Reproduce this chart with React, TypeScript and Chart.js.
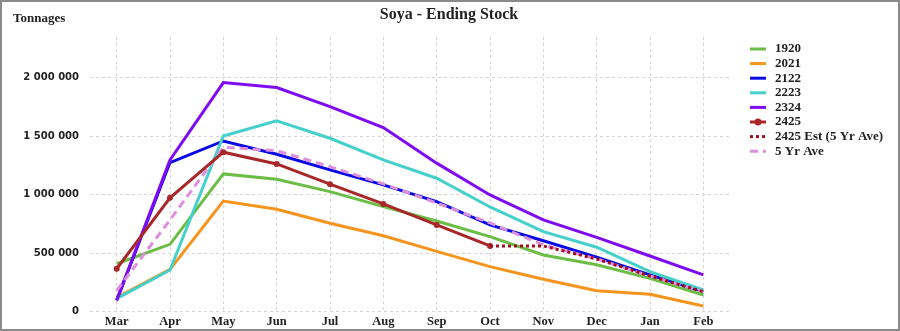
import React, { useEffect, useRef } from "react";
import { Chart, registerables } from "chart.js";

Chart.register(...registerables);

const months = ["Mar", "Apr", "May", "Jun", "Jul", "Aug", "Sep", "Oct", "Nov", "Dec", "Jan", "Feb"];

const s1920 = [409000, 575000, 1178000, 1132000, 1026000, 898000, 775000, 641000, 484000, 400000, 284000, 141000];
const s2021 = [120000, 361000, 946000, 875000, 755000, 649000, 515000, 384000, 276000, 178000, 147000, 47000];
const s2122 = [95000, 1275000, 1460000, 1346000, 1212000, 1084000, 941000, 741000, 606000, 465000, 313000, 170000];
const s2223 = [110000, 355000, 1503000, 1632000, 1483000, 1298000, 1141000, 895000, 684000, 550000, 341000, 184000];
const s2324 = [95000, 1298000, 1960000, 1917000, 1754000, 1575000, 1270000, 998000, 784000, 635000, 475000, 313000];
const s2425 = [366000, 973000, 1364000, 1263000, 1090000, 921000, 741000, 561000, null, null, null, null];
const s2425Est = [null, null, null, null, null, null, null, 561000, 561000, 450000, 304000, 170000];
const s5YrAve = [180000, 784000, 1406000, 1377000, 1240000, 1092000, 929000, 758000, 570000, 450000, 304000, 170000];

const yTicks = [0, 500000, 1000000, 1500000, 2000000];

const fmt = (v: number) => String(Math.round(v)).replace(/\B(?=(\d{3})+(?!\d))/g, " ");

const serif = "'Liberation Serif', serif";

const decorPlugin = {
  id: "decor",
  afterDraw(chart: any) {
    const ctx = chart.ctx;
    ctx.save();
    // title
    ctx.fillStyle = "#222";
    ctx.font = `bold 16px ${serif}`;
    ctx.textAlign = "center";
    ctx.textBaseline = "middle";
    ctx.fillText("Soya - Ending Stock", 449, 15);
    // axis title
    ctx.font = `bold 13px ${serif}`;
    ctx.textAlign = "left";
    ctx.fillText("Tonnages", 13, 19);
    // legend
    const ds = chart.data.datasets;
    ds.forEach((d: any, i: number) => {
      const y = 49 + i * 14.6;
      ctx.strokeStyle = d.borderColor;
      ctx.lineWidth = 3;
      ctx.setLineDash(d.borderDash || []);
      ctx.beginPath();
      ctx.moveTo(750, y);
      ctx.lineTo(766, y);
      ctx.stroke();
      ctx.setLineDash([]);
      if (d.pointRadius > 0) {
        ctx.fillStyle = d.borderColor;
        ctx.beginPath();
        ctx.arc(758, y, 3.5, 0, Math.PI * 2);
        ctx.fill();
      }
      ctx.fillStyle = "#222";
      ctx.font = `bold 13px ${serif}`;
      ctx.textAlign = "left";
      ctx.textBaseline = "middle";
      ctx.fillText(d.label, 775, y);
    });
    // border
    ctx.strokeStyle = "#8a8a8a";
    ctx.lineWidth = 2;
    ctx.strokeRect(1, 1, 898, 329);
    ctx.restore();
  },
};

export default function App() {
  const ref = useRef<HTMLCanvasElement>(null);
  useEffect(() => {
    if (!ref.current) return;
    const mk = (label: string, data: any[], color: string, extra: any = {}) => ({
      label,
      data,
      borderColor: color,
      backgroundColor: color,
      borderWidth: 3,
      pointRadius: 0,
      tension: 0,
      fill: false,
      spanGaps: false,
      ...extra,
    });
    const chart = new Chart(ref.current, {
      type: "line",
      data: {
        labels: months,
        datasets: [
          mk("1920", s1920, "#6cbd45", { order: 8 }),
          mk("2021", s2021, "#f7941d", { order: 7 }),
          mk("2122", s2122, "#0a0ae6", { order: 6 }),
          mk("2223", s2223, "#45d0cc", { order: 5 }),
          mk("2324", s2324, "#7f0bf2", { order: 4 }),
          mk("2425", s2425, "#a8282a", { order: 2, pointRadius: 3, pointBorderWidth: 0, pointHoverRadius: 3 }),
          mk("2425 Est (5 Yr Ave)", s2425Est, "#a00d1a", { order: 1, borderDash: [3, 3] }),
          mk("5 Yr Ave", s5YrAve, "#dc8fdc", { order: 3, borderDash: [8, 5] }),
        ],
      },
      options: {
        responsive: false,
        animation: false,
        devicePixelRatio: 1,
        layout: { padding: { left: 0, top: 37, right: 170, bottom: 0 } },
        plugins: { legend: { display: false }, title: { display: false }, tooltip: { enabled: false } },
        scales: {
          x: {
            offset: true,
            grid: { color: "#d6d6d6", drawTicks: false },
            border: { display: false, dash: [3, 3] },
            ticks: { color: "#222", padding: 3, font: { family: serif, weight: "bold", size: 12.5 }, maxRotation: 0 },
            afterFit: (s: any) => {
              s.height = 19.5;
            },
          },
          y: {
            min: 0,
            max: 2350000,
            afterBuildTicks: (s: any) => {
              s.ticks = yTicks.map((v) => ({ value: v }));
            },
            grid: { color: "#d6d6d6", drawTicks: false },
            border: { display: false, dash: [3, 3] },
            ticks: {
              color: "#222",
              padding: 11,
              font: { family: "'DejaVu Sans', sans-serif", weight: "bold", size: 10 },
              callback: (v: any) => fmt(Number(v)),
            },
            afterFit: (s: any) => {
              s.width = 90;
            },
          },
        },
      },
      plugins: [decorPlugin],
    });
    return () => chart.destroy();
  }, []);
  return (
    <div style={{ position: "fixed", left: 0, top: 0, width: 900, height: 331, background: "#fff" }}>
      <canvas ref={ref} width={900} height={331} style={{ width: 900, height: 331, display: "block" }} />
    </div>
  );
}
